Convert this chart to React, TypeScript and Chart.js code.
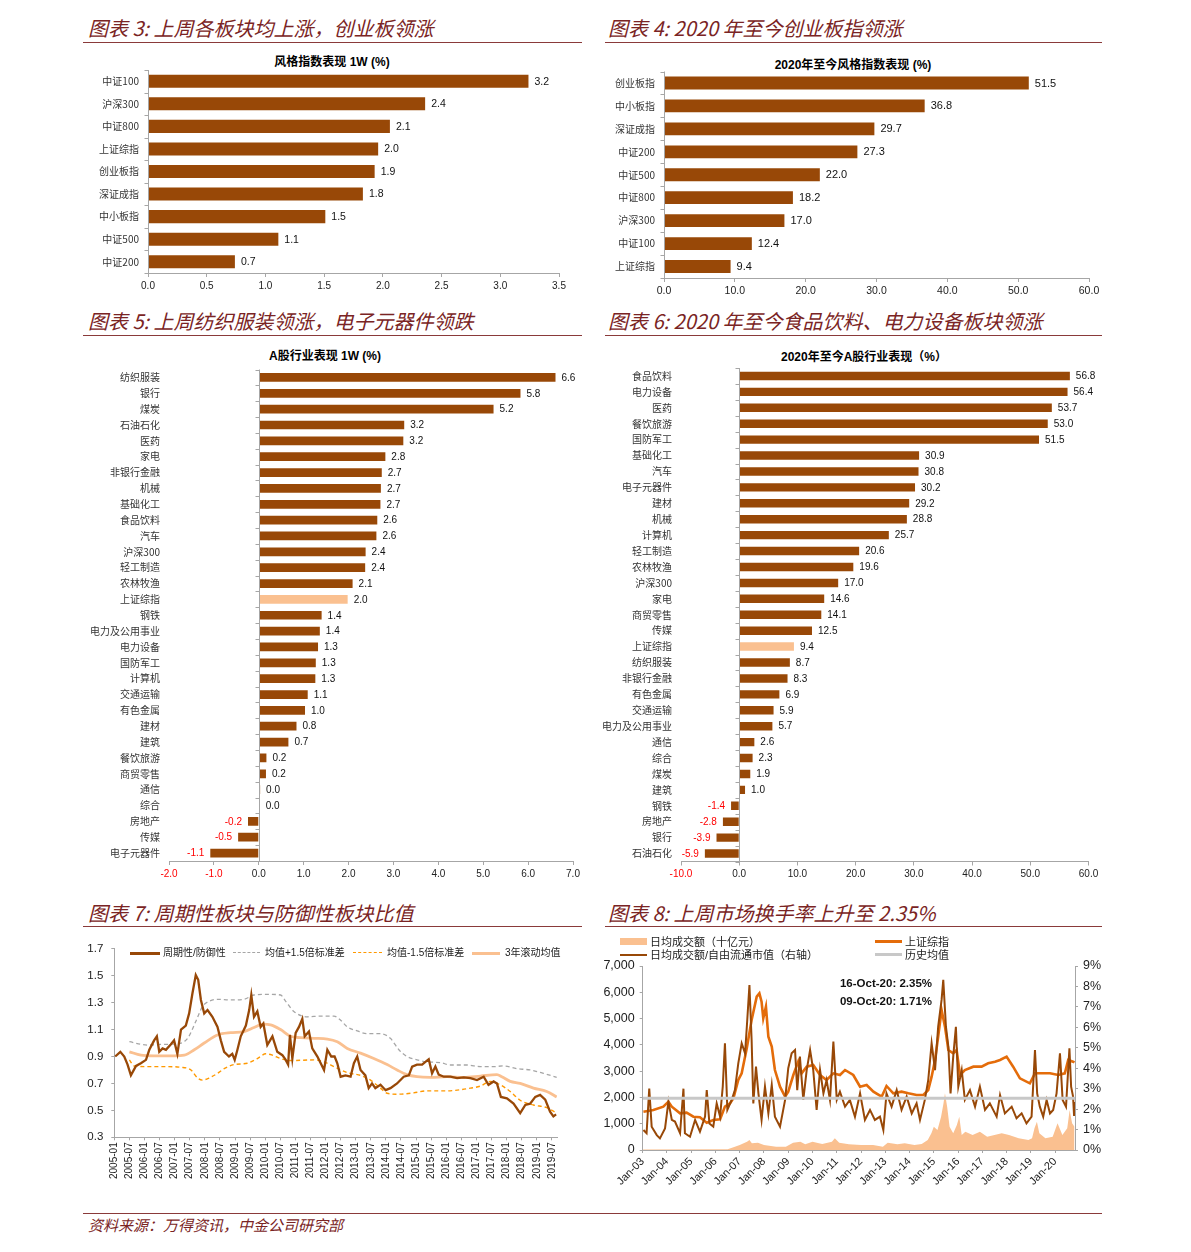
import React, { useEffect, useRef } from "react";
import { Chart, registerables } from "chart.js";

Chart.register(...registerables);

const NUM_FONT = "'Liberation Sans', Arial, Helvetica, sans-serif";
const CJK_FONT = "'Noto Sans CJK SC', 'Noto Sans', sans-serif";
const MIX_FONT = "'Liberation Sans', 'Noto Sans CJK SC', sans-serif";
const TITLE_COLOR = "#7A2424";
const BROWN = "#984807";
const PEACH = "#FAC090";
const ORANGE = "#E46C0A";
const AXIS = "#A6A6A6";

// ---------- 图表3 ----------
const c3Categories = ["中证100", "沪深300", "中证800", "上证综指", "创业板指", "深证成指", "中小板指", "中证500", "中证200"];
const c3Values = [3.24, 2.36, 2.06, 1.96, 1.93, 1.83, 1.51, 1.11, 0.74];
const c3XTicks = [0, 0.5, 1, 1.5, 2, 2.5, 3, 3.5];

// ---------- 图表4 ----------
const c4Categories = ["创业板指", "中小板指", "深证成指", "中证200", "中证500", "中证800", "沪深300", "中证100", "上证综指"];
const c4Values = [51.5, 36.8, 29.7, 27.3, 22.0, 18.2, 17.0, 12.4, 9.4];
const c4XTicks = [0, 10, 20, 30, 40, 50, 60];

// ---------- 图表5 ----------
const c5Categories = ["纺织服装", "银行", "煤炭", "石油石化", "医药", "家电", "非银行金融", "机械", "基础化工", "食品饮料", "汽车", "沪深300", "轻工制造", "农林牧渔", "上证综指", "钢铁", "电力及公用事业", "电力设备", "国防军工", "计算机", "交通运输", "有色金属", "建材", "建筑", "餐饮旅游", "商贸零售", "通信", "综合", "房地产", "传媒", "电子元器件"];
const c5Values = [6.61, 5.83, 5.23, 3.24, 3.22, 2.82, 2.74, 2.72, 2.71, 2.64, 2.62, 2.38, 2.37, 2.09, 1.98, 1.40, 1.36, 1.32, 1.27, 1.26, 1.09, 1.03, 0.84, 0.66, 0.17, 0.16, 0.03, 0.02, -0.24, -0.46, -1.08];
const c5XTicks = [-2, -1, 0, 1, 2, 3, 4, 5, 6, 7];

// ---------- 图表6 ----------
const c6Categories = ["食品饮料", "电力设备", "医药", "餐饮旅游", "国防军工", "基础化工", "汽车", "电子元器件", "建材", "机械", "计算机", "轻工制造", "农林牧渔", "沪深300", "家电", "商贸零售", "传媒", "上证综指", "纺织服装", "非银行金融", "有色金属", "交通运输", "电力及公用事业", "通信", "综合", "煤炭", "建筑", "钢铁", "房地产", "银行", "石油石化"];
const c6Values = [56.8, 56.4, 53.7, 53.0, 51.5, 30.9, 30.8, 30.2, 29.2, 28.8, 25.7, 20.6, 19.6, 17.0, 14.6, 14.1, 12.5, 9.4, 8.7, 8.3, 6.9, 5.9, 5.7, 2.6, 2.3, 1.9, 1.0, -1.4, -2.8, -3.9, -5.9];
const c6XTicks = [-10, 0, 10, 20, 30, 40, 50, 60];

const HIGHLIGHT = "上证综指";

// ---------- 图表7 ----------
const c7XTickLabels = ["2005-01", "2005-07", "2006-01", "2006-07", "2007-01", "2007-07", "2008-01", "2008-07", "2009-01", "2009-07", "2010-01", "2010-07", "2011-01", "2011-07", "2012-01", "2012-07", "2013-01", "2013-07", "2014-01", "2014-07", "2015-01", "2015-07", "2016-01", "2016-07", "2017-01", "2017-07", "2018-01", "2018-07", "2019-01", "2019-07"];
const c7YTicks = [0.3, 0.5, 0.7, 0.9, 1.1, 1.3, 1.5, 1.7];

const c7RatioYears = [2005.03, 2005.2, 2005.33, 2005.44, 2005.55, 2005.72, 2005.88, 2006.05, 2006.16, 2006.32, 2006.41, 2006.49, 2006.6, 2006.71, 2006.87, 2006.98, 2007.09, 2007.21, 2007.37, 2007.48, 2007.59, 2007.7, 2007.78, 2007.87, 2007.98, 2008.09, 2008.25, 2008.42, 2008.53, 2008.64, 2008.8, 2008.91, 2008.99, 2009.08, 2009.19, 2009.36, 2009.47, 2009.54, 2009.63, 2009.74, 2009.85, 2009.94, 2010.07, 2010.24, 2010.4, 2010.57, 2010.68, 2010.76, 2010.82, 2010.9, 2011.01, 2011.12, 2011.23, 2011.31, 2011.45, 2011.56, 2011.73, 2011.84, 2011.95, 2012.06, 2012.19, 2012.3, 2012.39, 2012.5, 2012.66, 2012.83, 2012.94, 2013.05, 2013.16, 2013.32, 2013.43, 2013.54, 2013.65, 2013.82, 2013.99, 2014.15, 2014.37, 2014.59, 2014.76, 2014.87, 2015.03, 2015.2, 2015.31, 2015.42, 2015.53, 2015.64, 2015.75, 2015.92, 2016.14, 2016.36, 2016.58, 2016.8, 2017.02, 2017.24, 2017.4, 2017.57, 2017.68, 2017.81, 2018.01, 2018.23, 2018.45, 2018.62, 2018.78, 2018.95, 2019.11, 2019.28, 2019.44, 2019.55, 2019.64];
const c7Ratio = [0.9, 0.935, 0.9, 0.84, 0.76, 0.83, 0.85, 0.875, 0.95, 1.02, 1.05, 0.935, 0.96, 0.95, 0.99, 1.02, 0.92, 1.1, 1.13, 1.22, 1.37, 1.505, 1.47, 1.32, 1.22, 1.245, 1.195, 1.12, 1.02, 0.935, 0.9, 0.92, 0.875, 0.95, 1.05, 1.13, 1.245, 1.357, 1.195, 1.235, 1.12, 1.145, 0.985, 1.05, 0.935, 0.91, 0.875, 0.84, 1.06, 0.885, 1.075, 1.12, 1.18, 1.05, 1.085, 0.96, 0.9, 0.85, 0.8, 0.95, 0.9, 0.9, 0.85, 0.75, 0.76, 0.75, 0.85, 0.9, 0.8, 0.76, 0.665, 0.7, 0.665, 0.69, 0.65, 0.665, 0.7, 0.75, 0.76, 0.825, 0.84, 0.84, 0.86, 0.88, 0.775, 0.825, 0.765, 0.75, 0.75, 0.74, 0.745, 0.74, 0.725, 0.75, 0.69, 0.715, 0.7, 0.6, 0.59, 0.55, 0.48, 0.54, 0.55, 0.6, 0.615, 0.58, 0.49, 0.455, 0.47];

const c7UpperYears = [2005.5, 2006.1, 2006.54, 2007.09, 2007.43, 2007.7, 2007.92, 2008.14, 2008.42, 2008.86, 2009.3, 2009.63, 2010.07, 2010.51, 2010.68, 2010.95, 2011.39, 2011.84, 2012.28, 2012.5, 2012.72, 2013.05, 2013.38, 2013.82, 2014.15, 2014.43, 2014.7, 2015.03, 2015.36, 2015.8, 2016.14, 2016.69, 2017.13, 2017.57, 2017.9, 2018.34, 2018.78, 2019.22, 2019.66];
const c7Upper = [1.01, 0.985, 0.99, 0.995, 1.035, 1.16, 1.27, 1.31, 1.325, 1.32, 1.325, 1.357, 1.362, 1.357, 1.31, 1.235, 1.195, 1.2, 1.2, 1.17, 1.12, 1.09, 1.07, 1.07, 1.035, 0.95, 0.9, 0.875, 0.86, 0.855, 0.837, 0.837, 0.825, 0.825, 0.83, 0.81, 0.8, 0.775, 0.745];

const c7LowerYears = [2005.5, 2005.66, 2006.1, 2006.65, 2007.21, 2007.54, 2007.76, 2007.92, 2008.14, 2008.42, 2008.64, 2008.97, 2009.41, 2009.74, 2010.02, 2010.24, 2010.51, 2010.84, 2011.62, 2011.95, 2012.28, 2012.72, 2013.16, 2013.49, 2013.82, 2014.04, 2014.37, 2014.92, 2015.36, 2016.03, 2016.36, 2016.8, 2017.13, 2017.46, 2017.79, 2018.12, 2018.45, 2018.89, 2019.33, 2019.66];
const c7Lower = [0.875, 0.83, 0.825, 0.825, 0.82, 0.8, 0.74, 0.725, 0.74, 0.775, 0.81, 0.84, 0.85, 0.885, 0.92, 0.91, 0.885, 0.87, 0.875, 0.86, 0.825, 0.78, 0.76, 0.725, 0.665, 0.627, 0.62, 0.63, 0.645, 0.645, 0.65, 0.665, 0.68, 0.715, 0.69, 0.64, 0.575, 0.54, 0.52, 0.48];

const c7RollingYears = [2005.5, 2005.88, 2006.32, 2006.98, 2007.32, 2007.65, 2007.98, 2008.42, 2008.86, 2009.3, 2009.63, 2009.91, 2010.18, 2010.51, 2010.84, 2011.17, 2011.62, 2012.06, 2012.39, 2012.72, 2013.16, 2013.6, 2014.04, 2014.37, 2014.7, 2015.03, 2015.47, 2016.03, 2016.58, 2017.13, 2017.68, 2017.84, 2018.12, 2018.45, 2018.89, 2019.33, 2019.66];
const c7Rolling = [0.935, 0.91, 0.905, 0.905, 0.91, 0.95, 1.0, 1.06, 1.077, 1.085, 1.115, 1.14, 1.135, 1.1, 1.05, 1.04, 1.035, 1.03, 1.01, 0.96, 0.925, 0.885, 0.84, 0.8, 0.765, 0.75, 0.745, 0.75, 0.745, 0.755, 0.765, 0.75, 0.715, 0.7, 0.665, 0.64, 0.6];

// ---------- 图表8 ----------
const c8XTickLabels = ["Jan-03", "Jan-04", "Jan-05", "Jan-06", "Jan-07", "Jan-08", "Jan-09", "Jan-10", "Jan-11", "Jan-12", "Jan-13", "Jan-14", "Jan-15", "Jan-16", "Jan-17", "Jan-18", "Jan-19", "Jan-20"];
const c8LeftTicks = [0, 1000, 2000, 3000, 4000, 5000, 6000, 7000];
const c8RightTicks = [0, 1, 2, 3, 4, 5, 6, 7, 8, 9];

const c8TurnoverYears = [2003.0, 2006.5, 2006.8, 2007.0, 2007.3, 2007.4, 2007.5, 2007.75, 2008.0, 2008.5, 2008.9, 2009.2, 2009.5, 2009.7, 2010.0, 2010.4, 2010.8, 2010.92, 2011.1, 2011.5, 2012.0, 2012.5, 2012.9, 2013.1, 2013.5, 2013.8, 2014.2, 2014.5, 2014.75, 2014.9, 2015.0, 2015.15, 2015.3, 2015.4, 2015.46, 2015.55, 2015.65, 2015.8, 2015.95, 2016.05, 2016.15, 2016.3, 2016.6, 2016.9, 2017.2, 2017.5, 2017.8, 2018.1, 2018.5, 2018.9, 2019.05, 2019.15, 2019.25, 2019.35, 2019.6, 2019.9, 2020.1, 2020.3, 2020.5, 2020.6, 2020.7, 2020.8];
const c8Turnover = [15, 30, 127, 190, 317, 380, 254, 279, 190, 127, 127, 279, 317, 215, 317, 228, 317, 444, 279, 215, 190, 190, 127, 279, 215, 254, 190, 228, 380, 634, 888, 761, 1268, 1775, 2155, 1648, 888, 634, 951, 1268, 571, 697, 571, 697, 507, 571, 634, 571, 444, 380, 444, 824, 1078, 634, 444, 507, 1014, 571, 824, 1522, 1014, 888];

const c8SseYears = [2003.03, 2003.44, 2003.85, 2004.06, 2004.2, 2004.54, 2004.81, 2005.09, 2005.36, 2005.64, 2005.91, 2006.19, 2006.39, 2006.6, 2006.74, 2006.94, 2007.08, 2007.29, 2007.49, 2007.7, 2007.81, 2007.9, 2007.97, 2008.08, 2008.18, 2008.32, 2008.45, 2008.66, 2008.87, 2009.0, 2009.21, 2009.41, 2009.55, 2009.76, 2010.03, 2010.31, 2010.58, 2010.86, 2011.13, 2011.34, 2011.68, 2011.96, 2012.23, 2012.51, 2012.85, 2013.05, 2013.33, 2013.67, 2013.95, 2014.29, 2014.57, 2014.77, 2014.91, 2015.05, 2015.18, 2015.32, 2015.46, 2015.6, 2015.8, 2015.94, 2016.08, 2016.28, 2016.63, 2016.97, 2017.24, 2017.52, 2017.73, 2018.0, 2018.27, 2018.55, 2018.96, 2019.17, 2019.44, 2019.79, 2020.13, 2020.4, 2020.54, 2020.74, 2020.8];
const c8Sse = [1458, 1522, 1649, 1839, 1649, 1395, 1420, 1268, 1243, 1040, 1141, 1167, 1649, 1775, 1966, 2663, 2917, 3868, 4945, 5833, 5960, 5643, 5009, 5453, 4311, 3931, 3043, 2409, 2029, 2219, 2853, 3360, 2917, 3170, 3234, 2853, 2663, 2917, 2853, 3043, 2853, 2409, 2473, 2219, 2029, 2436, 2155, 2219, 2155, 2092, 2092, 2282, 2790, 3424, 4311, 5326, 4692, 3804, 3677, 3804, 2853, 3043, 3170, 3170, 3297, 3360, 3424, 3551, 3170, 2726, 2536, 2917, 2917, 2917, 2853, 2917, 3424, 3360, 3330];

const c8RatioYears = [2003.03, 2003.16, 2003.27, 2003.37, 2003.58, 2003.71, 2003.92, 2004.06, 2004.2, 2004.33, 2004.54, 2004.68, 2004.74, 2004.95, 2005.16, 2005.36, 2005.57, 2005.64, 2005.75, 2005.91, 2006.05, 2006.19, 2006.3, 2006.39, 2006.49, 2006.67, 2006.8, 2006.94, 2007.08, 2007.22, 2007.31, 2007.4, 2007.49, 2007.56, 2007.67, 2007.77, 2007.9, 2008.04, 2008.18, 2008.32, 2008.45, 2008.66, 2008.87, 2009.0, 2009.14, 2009.28, 2009.37, 2009.48, 2009.62, 2009.76, 2009.9, 2010.03, 2010.17, 2010.31, 2010.45, 2010.58, 2010.72, 2010.86, 2011.0, 2011.13, 2011.34, 2011.54, 2011.75, 2011.96, 2012.16, 2012.37, 2012.57, 2012.78, 2012.92, 2013.05, 2013.26, 2013.47, 2013.67, 2013.88, 2014.09, 2014.29, 2014.43, 2014.63, 2014.77, 2014.91, 2015.05, 2015.18, 2015.32, 2015.39, 2015.5, 2015.6, 2015.69, 2015.8, 2015.91, 2016.01, 2016.15, 2016.28, 2016.49, 2016.7, 2016.9, 2017.11, 2017.31, 2017.59, 2017.73, 2017.93, 2018.21, 2018.41, 2018.62, 2018.82, 2019.03, 2019.17, 2019.26, 2019.37, 2019.51, 2019.65, 2019.79, 2019.92, 2020.06, 2020.2, 2020.31, 2020.45, 2020.59, 2020.66, 2020.74, 2020.78, 2020.8];
const c8Ratio = [0.98, 0.82, 3.0, 1.14, 0.73, 0.57, 1.06, 2.36, 1.47, 1.39, 0.82, 3.0, 0.82, 0.65, 1.47, 0.9, 1.63, 2.93, 1.3, 1.14, 2.28, 1.63, 3.1, 5.22, 1.96, 2.45, 2.93, 4.24, 5.22, 4.73, 6.36, 8.07, 5.38, 2.28, 4.08, 2.77, 1.47, 3.1, 1.79, 3.18, 1.63, 1.14, 2.45, 4.0, 4.73, 4.89, 2.93, 4.57, 2.45, 3.91, 4.89, 3.91, 1.96, 3.91, 2.77, 3.42, 2.45, 5.3, 2.45, 2.85, 2.12, 2.45, 1.63, 2.77, 1.47, 1.96, 1.47, 1.63, 0.98, 2.77, 2.12, 2.93, 1.96, 2.61, 1.79, 2.28, 1.47, 2.45, 3.42, 5.22, 3.91, 6.03, 7.34, 8.32, 6.03, 5.05, 2.77, 4.57, 6.03, 3.1, 3.91, 2.45, 2.93, 2.12, 3.1, 1.96, 2.28, 1.63, 2.69, 1.79, 2.12, 1.55, 1.79, 1.3, 1.63, 4.89, 2.77, 2.12, 1.63, 2.45, 1.79, 1.96, 2.77, 4.73, 2.45, 2.12, 4.97, 3.1, 2.61, 1.71, 2.35];

const c8MeanYears = [2003.0, 2020.82];
const c8Mean = [2.53, 2.53];

function zip(xs: number[], ys: number[]) {
  return xs.map((x, i) => ({ x, y: ys[i] }));
}

// fix an axis size and drop Chart.js's automatic edge padding for labels
function fixV(width: number) {
  return (s: any) => {
    s.width = width;
    s.paddingTop = 0;
    s.paddingBottom = 0;
  };
}
function fixH(height: number) {
  return (s: any) => {
    s.height = height;
    s.paddingLeft = 0;
    s.paddingRight = 0;
  };
}

const zeroAxisPlugin = {
  id: "zeroAxis",
  afterDatasetsDraw(chart: any) {
    const ctx = chart.ctx;
    const area = chart.chartArea;
    const x0 = Math.round(chart.scales.x.getPixelForValue(0)) + 0.5;
    const n = chart.data.labels.length;
    ctx.save();
    ctx.strokeStyle = AXIS;
    ctx.lineWidth = 1;
    ctx.beginPath();
    ctx.moveTo(x0, area.top);
    ctx.lineTo(x0, area.bottom);
    for (let i = 0; i <= n; i++) {
      const y = Math.round(area.top + ((area.bottom - area.top) * i) / n) + 0.5;
      ctx.moveTo(x0 - 4, y);
      ctx.lineTo(x0, y);
    }
    ctx.stroke();
    ctx.restore();
  },
};

const valueLabelPlugin = {
  id: "valueLabels",
  afterDatasetsDraw(chart: any, _args: any, opts: any) {
    const ctx = chart.ctx;
    const meta = chart.getDatasetMeta(0);
    const data = chart.data.datasets[0].data as number[];
    ctx.save();
    ctx.font = `${opts.size || 10}px ${NUM_FONT}`;
    ctx.textBaseline = "middle";
    meta.data.forEach((bar: any, i: number) => {
      const v = data[i];
      const txt = v.toFixed(1);
      if (v < 0) {
        ctx.fillStyle = "#FF0000";
        ctx.textAlign = "right";
        ctx.fillText(txt, bar.x - 6, bar.y + 0.5);
      } else {
        ctx.fillStyle = "#111";
        ctx.textAlign = "left";
        ctx.fillText(txt, bar.x + 6, bar.y + 0.5);
      }
    });
    ctx.restore();
  },
};

type BarCfg = {
  categories: string[];
  values: number[];
  xTicks: number[];
  highlight?: string;
  yW: number;
  xH: number;
  padTop: number;
  padRight: number;
  barPct: number;
  tickSize: number;
  valueSize: number;
};

function makeBar(canvas: HTMLCanvasElement, cfg: BarCfg) {
  return new Chart(canvas, {
    type: "bar",
    data: {
      labels: cfg.categories,
      datasets: [
        {
          data: cfg.values,
          backgroundColor: cfg.categories.map((c) => (c === cfg.highlight ? PEACH : BROWN)),
          borderWidth: 0,
          barPercentage: cfg.barPct,
          categoryPercentage: 1,
        },
      ],
    },
    options: {
      indexAxis: "y",
      responsive: false,
      animation: false,
      layout: { padding: { top: cfg.padTop, right: cfg.padRight, left: 0, bottom: 0 } },
      plugins: {
        legend: { display: false },
        tooltip: { enabled: false },
        valueLabels: { size: cfg.valueSize },
      } as any,
      scales: {
        x: {
          type: "linear",
          min: cfg.xTicks[0],
          max: cfg.xTicks[cfg.xTicks.length - 1],
          afterBuildTicks: (s: any) => {
            s.ticks = cfg.xTicks.map((v) => ({ value: v }));
          },
          ticks: {
            callback: (v: any) => Number(v).toFixed(1),
            color: (c: any) => (c.tick && c.tick.value < 0 ? "#FF0000" : "#222"),
            font: { family: NUM_FONT, size: cfg.tickSize },
            padding: 3,
            maxRotation: 0,
            autoSkip: false,
          },
          grid: { drawOnChartArea: false, drawTicks: true, tickLength: 4, color: AXIS },
          border: { display: true, color: AXIS },
          afterFit: fixH(cfg.xH),
        },
        y: {
          type: "category",
          border: { display: false },
          grid: { display: false, drawTicks: false },
          ticks: {
            font: { family: CJK_FONT, size: 10 },
            color: "#333",
            padding: 9,
            autoSkip: false,
          },
          afterFit: fixV(cfg.yW),
        },
      },
    } as any,
    plugins: [zeroAxisPlugin, valueLabelPlugin],
  });
}

function makeChart7(canvas: HTMLCanvasElement) {
  return new Chart(canvas, {
    type: "line",
    data: {
      datasets: [
        { label: "周期性/防御性", data: zip(c7RatioYears, c7Ratio), borderColor: BROWN, borderWidth: 2.3, pointRadius: 0, tension: 0, order: 0 },
        { label: "3年滚动均值", data: zip(c7RollingYears, c7Rolling), borderColor: PEACH, borderWidth: 2.8, pointRadius: 0, cubicInterpolationMode: "monotone", order: 1 },
        { label: "均值-1.5倍标准差", data: zip(c7LowerYears, c7Lower), borderColor: "#FF9900", borderDash: [4, 3], borderWidth: 1.4, pointRadius: 0, cubicInterpolationMode: "monotone", order: 2 },
        { label: "均值+1.5倍标准差", data: zip(c7UpperYears, c7Upper), borderColor: "#A6A6A6", borderDash: [4, 3], borderWidth: 1.3, pointRadius: 0, cubicInterpolationMode: "monotone", order: 3 },
      ],
    },
    options: {
      responsive: false,
      animation: false,
      layout: { padding: { top: 8.8, right: 26, left: 0, bottom: 0 } },
      plugins: { legend: { display: false }, tooltip: { enabled: false } },
      scales: {
        x: {
          type: "linear",
          min: 2005,
          max: 2019.67,
          afterBuildTicks: (s: any) => {
            s.ticks = c7XTickLabels.map((_, i) => ({ value: 2005 + i * 0.5 }));
          },
          ticks: {
            callback: (_v: any, i: number) => c7XTickLabels[i],
            autoSkip: false,
            minRotation: 90,
            maxRotation: 90,
            font: { family: NUM_FONT, size: 10 },
            color: "#222",
            padding: 2,
          },
          grid: { drawOnChartArea: false, tickLength: 3, color: AXIS },
          border: { color: AXIS },
          afterFit: fixH(52.7),
        },
        y: {
          type: "linear",
          min: 0.3,
          max: 1.7,
          afterBuildTicks: (s: any) => {
            s.ticks = c7YTicks.map((v) => ({ value: v }));
          },
          ticks: {
            callback: (v: any) => Number(v).toFixed(1),
            font: { family: NUM_FONT, size: 11.5 },
            color: "#222",
            padding: 8,
          },
          grid: { drawOnChartArea: false, tickLength: 3, color: AXIS },
          border: { color: AXIS },
          afterFit: fixV(31.3),
        },
      },
    } as any,
  });
}

function makeChart8(canvas: HTMLCanvasElement) {
  return new Chart(canvas, {
    type: "line",
    data: {
      datasets: [
        { label: "历史均值", data: zip(c8MeanYears, c8Mean), yAxisID: "y2", borderColor: "#C8C8C8", borderWidth: 3, pointRadius: 0, order: 1 },
        { label: "日均成交额/自由流通市值（右轴）", data: zip(c8RatioYears, c8Ratio), yAxisID: "y2", borderColor: BROWN, borderWidth: 2, pointRadius: 0, tension: 0, order: 2 },
        { label: "上证综指", data: zip(c8SseYears, c8Sse), yAxisID: "y", borderColor: ORANGE, borderWidth: 2.6, pointRadius: 0, tension: 0, order: 3 },
        { label: "日均成交额（十亿元）", data: zip(c8TurnoverYears, c8Turnover), yAxisID: "y", borderWidth: 0, borderColor: PEACH, backgroundColor: PEACH, fill: "origin", pointRadius: 0, tension: 0, order: 4 },
      ],
    },
    options: {
      responsive: false,
      animation: false,
      layout: { padding: { top: 8, right: 0, left: 0, bottom: 0 } },
      plugins: { legend: { display: false }, tooltip: { enabled: false } },
      scales: {
        x: {
          type: "linear",
          min: 2003,
          max: 2020.82,
          afterBuildTicks: (s: any) => {
            s.ticks = c8XTickLabels.map((_, i) => ({ value: 2003 + i }));
          },
          ticks: {
            callback: (_v: any, i: number) => c8XTickLabels[i],
            autoSkip: false,
            minRotation: 45,
            maxRotation: 45,
            font: { family: NUM_FONT, size: 11 },
            color: "#222",
            padding: 2,
          },
          grid: { drawOnChartArea: false, tickLength: 3, color: AXIS },
          border: { color: AXIS },
          afterFit: fixH(40),
        },
        y: {
          type: "linear",
          position: "left",
          min: 0,
          max: 7000,
          afterBuildTicks: (s: any) => {
            s.ticks = c8LeftTicks.map((v) => ({ value: v }));
          },
          ticks: {
            callback: (v: any) => Number(v).toLocaleString("en-US"),
            font: { family: NUM_FONT, size: 12.5 },
            color: "#222",
            padding: 5,
          },
          grid: { drawOnChartArea: false, tickLength: 3, color: AXIS },
          border: { color: AXIS },
          afterFit: fixV(42.7),
        },
        y2: {
          type: "linear",
          position: "right",
          min: 0,
          max: 9,
          afterBuildTicks: (s: any) => {
            s.ticks = c8RightTicks.map((v) => ({ value: v }));
          },
          ticks: {
            callback: (v: any) => `${v}%`,
            font: { family: NUM_FONT, size: 12.5 },
            color: "#222",
            padding: 5,
          },
          grid: { drawOnChartArea: false, tickLength: 3, color: AXIS },
          border: { color: AXIS },
          afterFit: fixV(35),
        },
      },
    } as any,
  });
}

const abs = (left: number, top: number, extra: React.CSSProperties = {}): React.CSSProperties => ({
  position: "absolute",
  left,
  top,
  ...extra,
});

function SectionTitle({ x, cy, lineX, lineW, lineY, text }: { x: number; cy: number; lineX: number; lineW: number; lineY: number; text: string }) {
  return (
    <>
      <div
        style={abs(x, cy - 14, {
          height: 28,
          lineHeight: "28px",
          fontSize: 20,
          fontStyle: "italic",
          color: TITLE_COLOR,
          fontFamily: CJK_FONT,
          whiteSpace: "nowrap",
        })}
      >
        {text}
      </div>
      <div style={abs(lineX, lineY, { width: lineW, height: 1, background: "#8A3A3A" })} />
    </>
  );
}

function ChartTitle({ cx, cy, text }: { cx: number; cy: number; text: string }) {
  return (
    <div
      style={abs(cx - 200, cy - 9, {
        width: 400,
        height: 18,
        lineHeight: "18px",
        textAlign: "center",
        fontSize: 12,
        fontWeight: "bold",
        color: "#000",
        fontFamily: MIX_FONT,
        whiteSpace: "nowrap",
      })}
    >
      {text}
    </div>
  );
}

function LegendItem({ x, cy, swatch, text, size }: { x: number; cy: number; swatch: React.ReactNode; text: string; size: number }) {
  return (
    <>
      {swatch}
      <div style={abs(x, cy - 8, { height: 16, lineHeight: "16px", fontSize: size, color: "#222", fontFamily: MIX_FONT, whiteSpace: "nowrap" })}>{text}</div>
    </>
  );
}

export default function App() {
  const r3 = useRef<HTMLCanvasElement>(null);
  const r4 = useRef<HTMLCanvasElement>(null);
  const r5 = useRef<HTMLCanvasElement>(null);
  const r6 = useRef<HTMLCanvasElement>(null);
  const r7 = useRef<HTMLCanvasElement>(null);
  const r8 = useRef<HTMLCanvasElement>(null);

  useEffect(() => {
    const charts: Chart[] = [];
    charts.push(
      makeBar(r3.current!, { categories: c3Categories, values: c3Values, xTicks: c3XTicks, yW: 65, xH: 27, padTop: 10, padRight: 24, barPct: 0.58, tickSize: 10, valueSize: 10.5 })
    );
    charts.push(
      makeBar(r4.current!, { categories: c4Categories, values: c4Values, xTicks: c4XTicks, yW: 59, xH: 24, padTop: 9.5, padRight: 13, barPct: 0.56, tickSize: 10.5, valueSize: 11 })
    );
    charts.push(
      makeBar(r5.current!, { categories: c5Categories, values: c5Values, xTicks: c5XTicks, highlight: HIGHLIGHT, yW: 86, xH: 21, padTop: 7.5, padRight: 10, barPct: 0.55, tickSize: 10, valueSize: 10 })
    );
    charts.push(
      makeBar(r6.current!, { categories: c6Categories, values: c6Values, xTicks: c6XTicks, highlight: HIGHLIGHT, yW: 91, xH: 20.5, padTop: 8, padRight: 13.5, barPct: 0.53, tickSize: 10, valueSize: 10 })
    );
    charts.push(makeChart7(r7.current!));
    charts.push(makeChart8(r8.current!));
    return () => charts.forEach((c) => c.destroy());
  }, []);

  return (
    <div style={{ position: "absolute", left: 0, top: 0, width: 1191, height: 1252, background: "#fff", overflow: "hidden" }}>
      <SectionTitle x={88} cy={28} lineX={83} lineW={499} lineY={42} text="图表 3: 上周各板块均上涨，创业板领涨" />
      <SectionTitle x={608} cy={28} lineX={605} lineW={497} lineY={42} text="图表 4: 2020 年至今创业板指领涨" />
      <SectionTitle x={88} cy={321} lineX={83} lineW={499} lineY={335} text="图表 5: 上周纺织服装领涨，电子元器件领跌" />
      <SectionTitle x={608} cy={321} lineX={605} lineW={497} lineY={335} text="图表 6: 2020 年至今食品饮料、电力设备板块领涨" />
      <SectionTitle x={88} cy={913} lineX={83} lineW={499} lineY={926} text="图表 7: 周期性板块与防御性板块比值" />
      <SectionTitle x={608} cy={913} lineX={605} lineW={497} lineY={926} text="图表 8: 上周市场换手率上升至 2.35%" />

      <ChartTitle cx={332} cy={62} text="风格指数表现 1W (%)" />
      <ChartTitle cx={853} cy={65} text="2020年至今风格指数表现 (%)" />
      <ChartTitle cx={325} cy={356} text="A股行业表现 1W (%)" />
      <ChartTitle cx={864} cy={357} text="2020年至今A股行业表现（%）" />

      <canvas ref={r3} width={500} height={240} style={abs(83, 60)} />
      <canvas ref={r4} width={497} height={240} style={abs(605, 62)} />
      <canvas ref={r5} width={500} height={520} style={abs(83, 362)} />
      <canvas ref={r6} width={512} height={522} style={abs(590, 360)} />
      <canvas ref={r7} width={500} height={250} style={abs(83, 940)} />
      <canvas ref={r8} width={510} height={232} style={abs(600, 958)} />

      {/* 图表7 legend */}
      <LegendItem x={163} cy={953} size={10} text="周期性/防御性" swatch={<div style={abs(130, 952, { width: 30, height: 2.5, background: BROWN })} />} />
      <LegendItem x={265} cy={953} size={10} text="均值+1.5倍标准差" swatch={<div style={abs(233, 952, { width: 27, height: 0, borderTop: "1.5px dashed #A6A6A6" })} />} />
      <LegendItem x={387} cy={953} size={10} text="均值-1.5倍标准差" swatch={<div style={abs(353, 952, { width: 29, height: 0, borderTop: "1.5px dashed #FF9900" })} />} />
      <LegendItem x={505} cy={953} size={10} text="3年滚动均值" swatch={<div style={abs(472, 951.5, { width: 28, height: 3, background: PEACH })} />} />

      {/* 图表8 legend */}
      <LegendItem x={650} cy={941.5} size={11} text="日均成交额（十亿元）" swatch={<div style={abs(620, 938, { width: 27, height: 7, background: PEACH })} />} />
      <LegendItem x={905} cy={941.5} size={11} text="上证综指" swatch={<div style={abs(875, 940, { width: 27, height: 3, background: ORANGE })} />} />
      <LegendItem x={650} cy={954.5} size={11} text="日均成交额/自由流通市值（右轴）" swatch={<div style={abs(620, 953.5, { width: 27, height: 2, background: BROWN })} />} />
      <LegendItem x={905} cy={954.5} size={11} text="历史均值" swatch={<div style={abs(875, 953, { width: 27, height: 3, background: "#C8C8C8" })} />} />

      {/* 图表8 annotation */}
      <div style={abs(786, 975, { width: 200, textAlign: "center", fontSize: 11.5, fontWeight: "bold", fontFamily: NUM_FONT, lineHeight: "16px", color: "#111" })}>16-Oct-20: 2.35%</div>
      <div style={abs(786, 993, { width: 200, textAlign: "center", fontSize: 11.5, fontWeight: "bold", fontFamily: NUM_FONT, lineHeight: "16px", color: "#111" })}>09-Oct-20: 1.71%</div>

      {/* footer */}
      <div style={abs(83, 1213, { width: 1019, height: 1, background: "#8A3A3A" })} />
      <div style={abs(88, 1215, { height: 20, lineHeight: "20px", fontSize: 15, fontStyle: "italic", color: TITLE_COLOR, fontFamily: CJK_FONT, whiteSpace: "nowrap" })}>
        资料来源：万得资讯，中金公司研究部
      </div>
    </div>
  );
}
